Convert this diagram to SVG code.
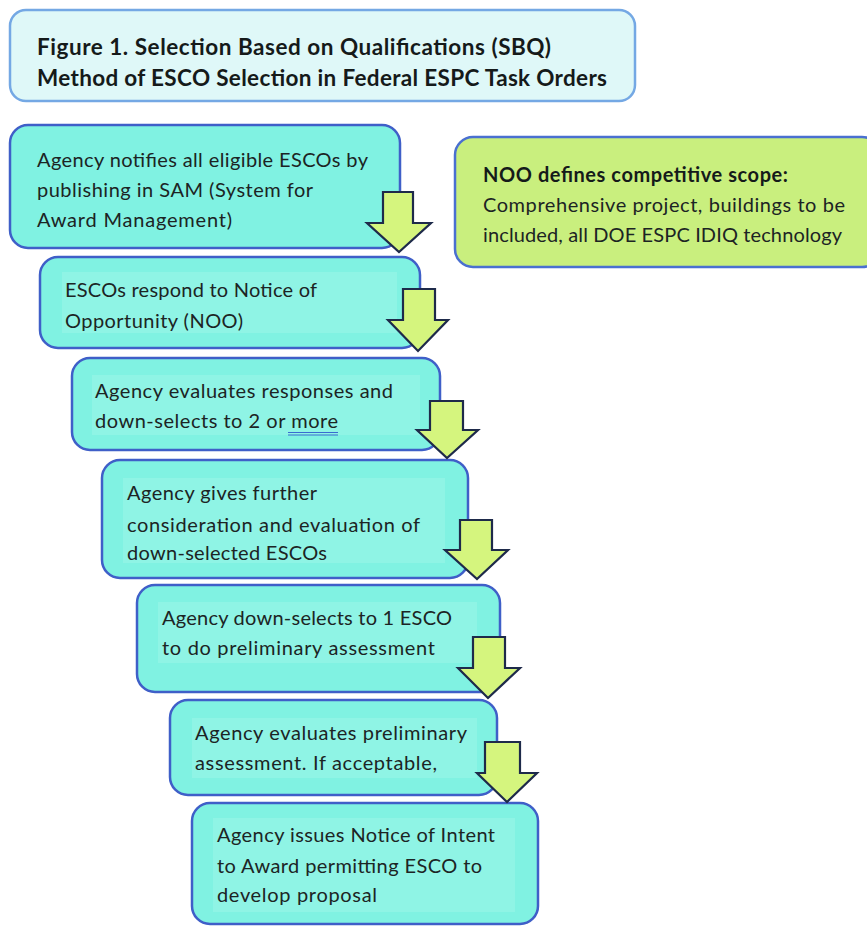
<svg xmlns="http://www.w3.org/2000/svg" width="867" height="926" viewBox="0 0 867 926">
<style>
.box{fill:#80f2e2;stroke:#3f5fc8;stroke-width:2.5}
.hl{fill:#8ff4e5}
.t{font-family:Lato,"Open Sans","Liberation Sans",sans-serif;font-size:20px;fill:#1c2424}
.tb{font-family:Lato,"Open Sans","Liberation Sans",sans-serif;font-size:22.5px;font-weight:bold;fill:#151a1a}
.nb{font-family:Lato,"Open Sans","Liberation Sans",sans-serif;font-size:20px;font-weight:bold;fill:#151a1a}
.arr{fill:#d5f57e;stroke:#1e2a4a;stroke-width:2.2;stroke-linejoin:miter}
</style>
<rect width="867" height="926" fill="#ffffff"/>
<g id="title">
<rect x="10" y="10" width="625" height="91" rx="16" fill="#dff8f8" stroke="#74a8e4" stroke-width="2.5"/>
<text class="tb" x="37" y="55" textLength="514">Figure 1. Selection Based on Qualifications (SBQ)</text>
<text class="tb" x="37" y="86" textLength="570">Method of ESCO Selection in Federal ESPC Task Orders</text>
</g>
<g id="noo">
<rect x="455" y="137" width="425" height="130" rx="18" fill="#c9ef7e" stroke="#4a70d0" stroke-width="2.5"/>
<text class="nb" x="483" y="182" textLength="305">NOO defines competitive scope:</text>
<text class="t" x="483" y="212" textLength="362">Comprehensive project, buildings to be</text>
<text class="t" x="483" y="242" textLength="359">included, all DOE ESPC IDIQ technology</text>
</g>
<g id="step1">
<rect class="box" x="10" y="125" width="390" height="123" rx="18"/>
<text class="t" x="37" y="167" textLength="331">Agency notifies all  eligible  ESCOs by</text>
<text class="t" x="37" y="197" textLength="276">publishing in SAM (System for</text>
<text class="t" x="37" y="227" textLength="195">Award Management)</text>
</g>
<g id="step2">
<rect class="box" x="40" y="257" width="380" height="91" rx="18"/>
<rect class="hl" x="62" y="272" width="335" height="61"/>
<text class="t" x="65" y="297" textLength="252">ESCOs respond to Notice of</text>
<text class="t" x="65" y="328" textLength="178">Opportunity (NOO)</text>
</g>
<g id="step3">
<rect class="box" x="72" y="358" width="368" height="92" rx="18"/>
<rect class="hl" x="92" y="375" width="328" height="60"/>
<text class="t" x="95" y="398" textLength="298">Agency evaluates  responses and</text>
<text class="t" x="95" y="428" textLength="243">down-selects to 2 or more</text>
<line x1="288" y1="432.5" x2="338" y2="432.5" stroke="#3a6ad0" stroke-width="1.2"/>
<line x1="288" y1="435" x2="338" y2="435" stroke="#3a6ad0" stroke-width="1.2"/>
</g>
<g id="step4">
<rect class="box" x="102" y="460" width="366" height="118" rx="18"/>
<rect class="hl" x="123" y="478" width="322" height="85"/>
<text class="t" x="127" y="500" textLength="190">Agency gives further</text>
<text class="t" x="127" y="532" textLength="293">consideration and evaluation of</text>
<text class="t" x="127" y="560" textLength="200">down-selected ESCOs</text>
</g>
<g id="step5">
<rect class="box" x="137" y="585" width="363" height="107" rx="18"/>
<rect class="hl" x="158" y="602" width="319" height="61"/>
<text class="t" x="162" y="625" textLength="290">Agency down-selects to 1 ESCO</text>
<text class="t" x="162" y="655" textLength="273">to do preliminary  assessment</text>
</g>
<g id="step6">
<rect class="box" x="170" y="700" width="327" height="95" rx="18"/>
<rect class="hl" x="192" y="718" width="285" height="60"/>
<text class="t" x="195" y="740" textLength="272">Agency evaluates preliminary</text>
<text class="t" x="195" y="770" textLength="242">assessment. If acceptable,</text>
</g>
<g id="step7">
<rect class="box" x="192" y="803" width="346" height="121" rx="18"/>
<rect class="hl" x="213" y="818" width="302" height="94"/>
<text class="t" x="217" y="842" textLength="278">Agency issues Notice of Intent</text>
<text class="t" x="217" y="873" textLength="265">to Award permitting ESCO to</text>
<text class="t" x="217" y="902" textLength="160">develop proposal</text>
</g>
<g id="connectors">
<path class="arr" d="M383,192 H413 V223 H431 L399,252 L367,223 H383 Z"/>
<path class="arr" d="M403,289 H435 V320 H448 L418,351 L388,320 H403 Z"/>
<path class="arr" d="M430,401 H463 V430 H478 L447,458 L417,430 H430 Z"/>
<path class="arr" d="M460,520 H492 V550 H508 L477,579 L445,550 H460 Z"/>
<path class="arr" d="M473,637 H505 V668 H520 L488,698 L458,668 H473 Z"/>
<path class="arr" d="M485,742 H520 V773 H537 L507,802 L477,773 H485 Z"/>
</g>
</svg>
